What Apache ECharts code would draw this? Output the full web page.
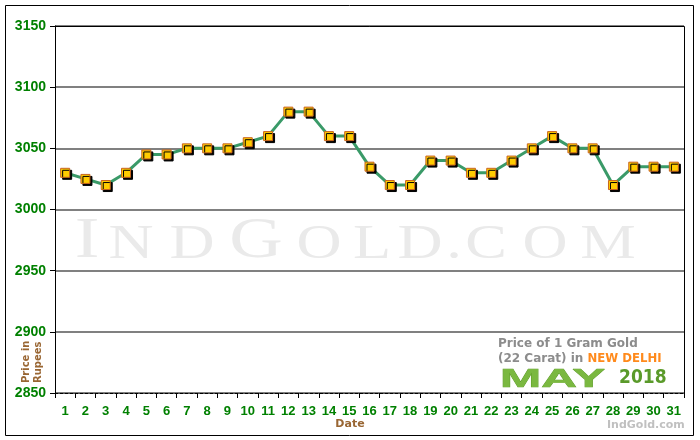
<!DOCTYPE html>
<html><head><meta charset="utf-8">
<script src="https://cdn.jsdelivr.net/npm/echarts@6/dist/echarts.min.js"></script>
<style>html,body{margin:0;padding:0;background:#fff}#c{width:700px;height:440px}</style>
</head><body><div id="c"></div>
<script>
const days = ['1','2','3','4','5','6','7','8','9','10','11','12','13','14','15','16','17','18','19','20','21','22','23','24','25','26','27','28','29','30','31'];
const prices = [3030,3025,3020,3030,3045,3045,3050,3050,3050,3055,3060,3080,3080,3060,3060,3035,3020,3020,3040,3040,3030,3030,3040,3050,3060,3050,3050,3020,3035,3035,3035];
const yTicks = [2850,2900,2950,3000,3050,3100,3150];
const wmLetters = ['I','N','D','G','O','L','D','.','C','O','M'];

const chart = echarts.init(document.getElementById('c'), null, {renderer:'canvas'});
const green = '#008000', brown = '#996633';

// watermark letters (small caps look)
const wmX = [87,131,192,256,319,372,420,454,486,545,608];
const wmBig = [true,false,false,true,false,false,false,false,false,false,false];
const wm = wmLetters.map((ch,i)=>({
  type:'text',x:wmX[i],y:wmBig[i]?271:269,z:0,silent:true,scaleX:1.3,
  style:{text:ch,fontFamily:'Liberation Serif',fontSize:wmBig[i]?57:48,fill:'#eaeaea',align:'center',verticalAlign:'bottom'}
}));

const graphics = [
  {type:'rect',shape:{x:5.5,y:5.5,width:688,height:430},style:{fill:'none',stroke:'#000',lineWidth:1},z:0},
  ...wm,
  {type:'text',x:498,y:338,style:{text:'Price of 1 Gram Gold',font:'bold 12px "DejaVu Sans"',fill:'#8c8c8c'}},
  {type:'text',x:498,y:352,style:{text:'{g|(22 Carat) in }{o|NEW DELHI}',rich:{g:{font:'bold 12px "DejaVu Sans"',fill:'#8c8c8c'},o:{font:'bold 13px "DejaVu Sans Condensed"',fill:'#ff8a1c'}}}},
  {type:'text',x:500,y:367,scaleX:1.9,style:{text:'MAY',font:'bold 26px "Liberation Sans"',fill:'#7ab840',stroke:'#5c9a28',lineWidth:0.6}},
  {type:'text',x:619,y:369,style:{text:'2018',font:'bold 19px "DejaVu Sans Condensed"',fill:'#5a9a2a'}},
  {type:'text',x:607,y:420,style:{text:'IndGold.com',font:'bold 11px "DejaVu Sans"',fill:'#c0c0c0'}},
  {type:'text',x:20,y:383,rotation:Math.PI/2,style:{text:'Price in\nRupees',font:'bold 10px "DejaVu Sans"',fill:brown,lineHeight:12}},
  {type:'text',left:'center',top:419,style:{text:'Date',font:'bold 11px "DejaVu Sans"',fill:brown}},
  {type:'polyline',shape:{points:[[55,26.5],[684.5,26.5],[684.5,393]]},style:{stroke:'#000',lineWidth:1,fill:'none'},z:10}
];

chart.setOption({
  animation:false,
  backgroundColor:'#fff',
  grid:{left:55,right:16,top:26,bottom:47,show:false},
  graphic:graphics,
  xAxis:{
    type:'category',data:days,boundaryGap:true,
    axisLine:{lineStyle:{color:'#000',type:[3,2],width:1}},
    axisTick:{show:true,length:5,alignWithLabel:false,lineStyle:{color:'#000'}},
    axisLabel:{color:green,fontWeight:'bold',fontSize:13,fontFamily:'Liberation Sans',margin:12}
  },
  yAxis:{
    type:'value',min:2850,max:3150,interval:50,
    axisLine:{show:true,lineStyle:{color:'#000',width:1}},
    axisTick:{show:true,length:5,lineStyle:{color:'#000'}},
    axisLabel:{color:green,fontWeight:'bold',fontSize:14,fontFamily:'Liberation Sans',margin:9,
      formatter:v=>yTicks.includes(v)?String(v):''},
    splitLine:{show:true,lineStyle:{color:'#808080',width:2}}
  },
  series:[
    {type:'line',data:prices,symbol:'rect',symbolSize:9,
     lineStyle:{color:'#3a9a68',width:3},
     itemStyle:{color:'#ffcc00',borderColor:'#c8641e',borderWidth:1,shadowColor:'#000',shadowOffsetX:2,shadowOffsetY:2,shadowBlur:0},
     z:5}
  ]
});
</script></body></html>
